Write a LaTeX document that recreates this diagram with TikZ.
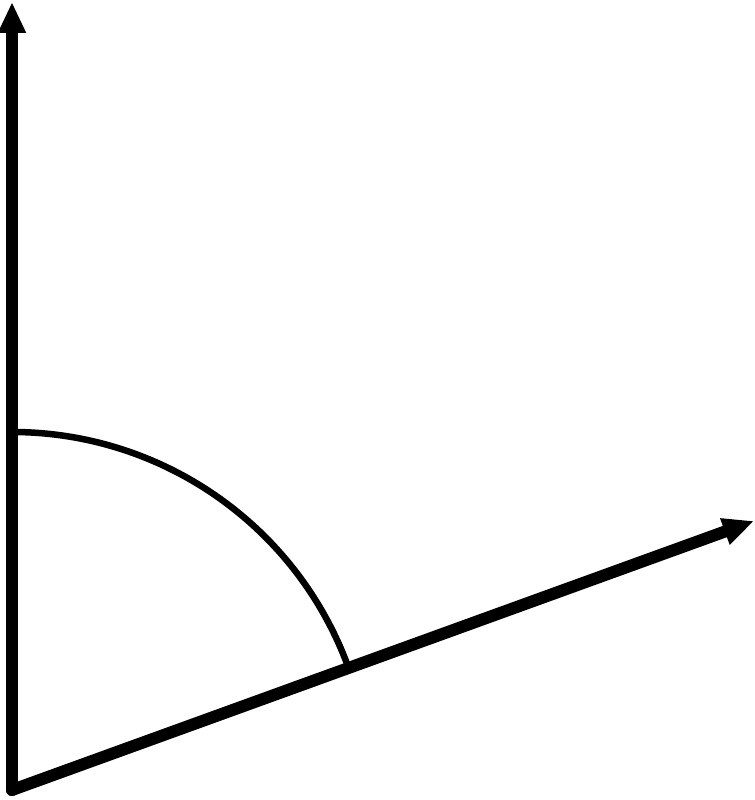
\documentclass[tikz,border=0pt]{standalone}
\usetikzlibrary{arrows.meta}
\begin{document}
\begin{tikzpicture}[x=1bp,y=1bp,
  axis/.style={line width=12bp, line cap=round, -{Triangle[length=31bp,width=26bp]}},
  anglearc/.style={line width=6.5bp}]
\useasboundingbox (0,0) rectangle (755,800);
\coordinate (O) at (12,10);
\coordinate (A) at (12,798);
\coordinate (B) at (754,279);
\draw[axis] (O) -- (A);
\draw[axis] (O) -- (B);
\draw[anglearc] (O) ++(90:358) arc[start angle=90,end angle=20,radius=358];
\end{tikzpicture}
\end{document}
